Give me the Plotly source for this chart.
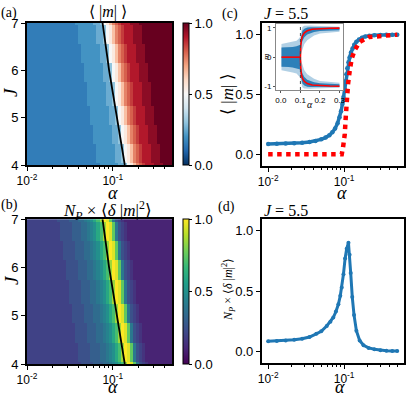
import numpy as np
import plotly.graph_objects as go

W, H = 407, 396
SERIF = "Liberation Serif, Times New Roman, serif"
SANS = "Liberation Sans, Arial, sans-serif"

# ---------------- (a) <|m|> and (b) N_P x <d|m|^2> maps ----------------
LOG_ALPHA_LO, LOG_ALPHA_HI = -2.0, -0.31      # alpha from 1e-2 to ~0.49
N_ALPHA = 48
J_VALUES = [4.0, 4.1, 4.2, 4.3, 4.4, 4.5, 4.6, 4.7, 4.8, 4.9, 5.0,
            5.1, 5.2, 5.3, 5.4, 5.5, 5.6, 5.7, 5.8, 5.9, 6.0,
            6.1, 6.2, 6.3, 6.4, 6.5, 6.6, 6.7, 6.8, 6.9, 7.0]

# one string per J row (J=4.0 first), one letter per alpha column:
# 'a'=0.00, 'b'=0.05, 'c'=0.10 ... 'u'=1.00
MAG_ROWS = [
    "dddddddddd" "dddddddddd" "dddd" "eeeeeeffgklnpqrsssttt" "uuu",
    "dddddddddd" "dddddddddd" "ddd" "eeeeeeffgklnpqrsssttt" "uuuu",
    "dddddddddd" "dddddddddd" "ddd" "eeeeeeffgklnpqrsssttt" "uuuu",
    "dddddddddd" "dddddddddd" "ddd" "eeeeeeffgklnpqrsssttt" "uuuu",
    "dddddddddd" "dddddddddd" "ddd" "eeeeeeffgklnpqrsssttt" "uuuu",
    "dddddddddd" "dddddddddd" "dd" "eeeeeeffgklnpqrsssttt" "uuuuu",
    "dddddddddd" "dddddddddd" "dd" "eeeeeeffgklnpqrsssttt" "uuuuu",
    "dddddddddd" "dddddddddd" "dd" "eeeeeeffgklnpqrsssttt" "uuuuu",
    "dddddddddd" "dddddddddd" "dd" "eeeeeeffgklnpqrsssttt" "uuuuu",
    "dddddddddd" "dddddddddd" "d" "eeeeeeffgklnpqrsssttt" "uuuuuu",
    "dddddddddd" "dddddddddd" "d" "eeeeeeffgklnpqrsssttt" "uuuuuu",
    "dddddddddd" "dddddddddd" "d" "eeeeeeffgklnpqrsssttt" "uuuuuu",
    "dddddddddd" "dddddddddd" "d" "eeeeeeffgklnpqrsssttt" "uuuuuu",
    "dddddddddd" "dddddddddd" "eeeeeeffgklnpqrsssttt" "uuuuuuu",
    "dddddddddd" "dddddddddd" "eeeeeeffgklnpqrsssttt" "uuuuuuu",
    "dddddddddd" "dddddddddd" "eeeeeeffgklnpqrsssttt" "uuuuuuu",
    "dddddddddd" "dddddddddd" "eeeeeeffgklnpqrsssttt" "uuuuuuu",
    "dddddddddd" "dddddddddd" "eeeeeeffgklnpqrsssttt" "uuuuuuu",
    "dddddddddd" "ddddddddd" "eeeeeeffgklnpqrsssttt" "uuuuuuuu",
    "dddddddddd" "ddddddddd" "eeeeeeffgklnpqrsssttt" "uuuuuuuu",
    "dddddddddd" "ddddddddd" "eeeeeeffgklnpqrsssttt" "uuuuuuuu",
    "dddddddddd" "ddddddddd" "eeeeeeffgklnpqrsssttt" "uuuuuuuu",
    "dddddddddd" "dddddddd" "eeeeeeffgklnpqrsssttt" "uuuuuuuuu",
    "dddddddddd" "dddddddd" "eeeeeeffgklnpqrsssttt" "uuuuuuuuu",
    "dddddddddd" "dddddddd" "eeeeeeffgklnpqrsssttt" "uuuuuuuuu",
    "dddddddddd" "dddddddd" "eeeeeeffgklnpqrsssttt" "uuuuuuuuu",
    "dddddddddd" "ddddddd" "eeeeeeffgklnpqrsssttt" "uuuuuuuuuu",
    "dddddddddd" "ddddddd" "eeeeeeffgklnpqrsssttt" "uuuuuuuuuu",
    "dddddddddd" "ddddddd" "eeeeeeffgklnpqrsssttt" "uuuuuuuuuu",
    "dddddddddd" "ddddddd" "eeeeeeffgklnpqrsssttt" "uuuuuuuuuu",
    "dddddddddd" "dddddd" "eeeeeeffgklnpqrsssttt" "uuuuuuuuuu" "u",
]

FLUCT_ROWS = [
    "eeeeeeeeee" "eeeeeeee" "ffffggghhijkmorutpifed" "cccccccc",
    "eeeeeeeeee" "eeeeeee" "ffffggghhijkmorutpifed" "ccccccccc",
    "eeeeeeeeee" "eeeeeee" "ffffggghhijkmorutpifed" "ccccccccc",
    "eeeeeeeeee" "eeeeeee" "ffffggghhijkmorutpifed" "ccccccccc",
    "eeeeeeeeee" "eeeeeee" "ffffggghhijkmorutpifed" "ccccccccc",
    "eeeeeeeeee" "eeeeee" "ffffggghhijkmorutpifed" "cccccccccc",
    "eeeeeeeeee" "eeeeee" "ffffggghhijkmorutpifed" "cccccccccc",
    "eeeeeeeeee" "eeeeee" "ffffggghhijkmorutpifed" "cccccccccc",
    "eeeeeeeeee" "eeeeee" "ffffggghhijkmorutpifed" "cccccccccc",
    "eeeeeeeeee" "eeeee" "ffffggghhijkmorutpifed" "cccccccccc" "c",
    "eeeeeeeeee" "eeeee" "ffffggghhijkmorutpifed" "cccccccccc" "c",
    "eeeeeeeeee" "eeeee" "ffffggghhijkmorutpifed" "cccccccccc" "c",
    "eeeeeeeeee" "eeeee" "ffffggghhijkmorutpifed" "cccccccccc" "c",
    "eeeeeeeeee" "eeee" "ffffggghhijkmorutpifed" "cccccccccc" "cc",
    "eeeeeeeeee" "eeee" "ffffggghhijkmorutpifed" "cccccccccc" "cc",
    "eeeeeeeeee" "eeee" "ffffggghhijkmorutpifed" "cccccccccc" "cc",
    "eeeeeeeeee" "eeee" "ffffggghhijkmorutpifed" "cccccccccc" "cc",
    "eeeeeeeeee" "eeee" "ffffggghhijkmorutpifed" "cccccccccc" "cc",
    "eeeeeeeeee" "eee" "ffffggghhijkmorutpifed" "cccccccccc" "ccc",
    "eeeeeeeeee" "eee" "ffffggghhijkmorutpifed" "cccccccccc" "ccc",
    "eeeeeeeeee" "eee" "ffffggghhijkmorutpifed" "cccccccccc" "ccc",
    "eeeeeeeeee" "eee" "ffffggghhijkmorutpifed" "cccccccccc" "ccc",
    "eeeeeeeeee" "ee" "ffffggghhijkmorutpifed" "cccccccccc" "cccc",
    "eeeeeeeeee" "ee" "ffffggghhijkmorutpifed" "cccccccccc" "cccc",
    "eeeeeeeeee" "ee" "ffffggghhijkmorutpifed" "cccccccccc" "cccc",
    "eeeeeeeeee" "ee" "ffffggghhijkmorutpifed" "cccccccccc" "cccc",
    "eeeeeeeeee" "e" "ffffggghhijkmorutpifed" "cccccccccc" "ccccc",
    "eeeeeeeeee" "e" "ffffggghhijkmorutpifed" "cccccccccc" "ccccc",
    "eeeeeeeeee" "e" "ffffggghhijkmorutpifed" "cccccccccc" "ccccc",
    "eeeeeeeeee" "e" "ffffggghhijkmorutpifed" "cccccccccc" "ccccc",
    "eeeeeeeeee" "ffffggghhijkmorutpifed" "cccccccccc" "cccccc",
]

# phase boundary drawn on both maps
BOUND_J = [4.0, 4.5, 5.0, 5.5, 6.0, 6.5, 7.0]
BOUND_ALPHA = [0.138, 0.124, 0.112, 0.1005, 0.0906, 0.083, 0.076]

# ---------------- (c) J = 5.5 cut of <|m|> ----------------
C_ALPHA = [0.01, 0.013, 0.017, 0.022, 0.028, 0.035, 0.042, 0.05, 0.057, 0.064,
           0.07, 0.076, 0.082, 0.087, 0.091, 0.095, 0.098, 0.101, 0.104, 0.107,
           0.11, 0.114, 0.118, 0.123, 0.129, 0.136, 0.145, 0.157, 0.172, 0.19,
           0.215, 0.25, 0.3, 0.36, 0.43, 0.5]
C_M = [0.086, 0.088, 0.09, 0.093, 0.097, 0.103, 0.112, 0.125, 0.14, 0.16,
       0.185, 0.215, 0.26, 0.31, 0.36, 0.42, 0.48, 0.55, 0.61, 0.67,
       0.72, 0.77, 0.81, 0.85, 0.885, 0.915, 0.94, 0.96, 0.975, 0.985,
       0.992, 0.996, 0.998, 0.999, 1.0, 1.0]
MF_ALPHA = [0.01, 0.03, 0.06, 0.086, 0.093, 0.097, 0.102, 0.105, 0.108, 0.1127,
            0.1186, 0.1259, 0.1378, 0.16, 0.212, 0.35, 0.5]
MF_M = [0.0, 0.0, 0.0, 0.0, 0.0, 0.064, 0.17, 0.31, 0.45, 0.59,
        0.70, 0.80, 0.87, 0.94, 0.98, 0.997, 1.0]

# inset: m samples vs alpha (shown as point-cloud envelopes) + mean field
INSET_ALPHA_C = 0.1
PRE_A = [0.003, 0.02, 0.04, 0.06, 0.08, 0.09, 0.1]
PRE_CORE = [0.33, 0.33, 0.34, 0.35, 0.37, 0.40, 0.42]
PRE_OUTER = [0.45, 0.47, 0.50, 0.52, 0.56, 0.62, 0.70]
POST_A = [0.1, 0.105, 0.11, 0.12, 0.135, 0.15, 0.17, 0.2, 0.25, 0.3]
POST_CORE_LO = [0.25, 0.42, 0.55, 0.68, 0.77, 0.82, 0.86, 0.89, 0.91, 0.92]
POST_CORE_HI = [0.55, 0.80, 0.90, 0.97, 1.01, 1.02, 1.02, 1.02, 1.01, 1.01]
POST_OUTER_LO = [0.05, 0.15, 0.28, 0.45, 0.58, 0.66, 0.74, 0.81, 0.85, 0.87]
POST_OUTER_HI = [0.75, 0.95, 1.03, 1.07, 1.08, 1.08, 1.07, 1.06, 1.05, 1.04]
RED_FLAT_A = [0.003, 0.1]
RED_A = [0.1, 0.1005, 0.102, 0.105, 0.11, 0.12, 0.135, 0.16, 0.2, 0.25, 0.3]
RED_M = [0.0, 0.25, 0.42, 0.58, 0.72, 0.83, 0.90, 0.95, 0.975, 0.985, 0.99]

# ---------------- (d) J = 5.5 cut of N_P x <d|m|^2> ----------------
D_ALPHA = [0.01, 0.013, 0.017, 0.022, 0.028, 0.035, 0.043, 0.05, 0.059, 0.066,
           0.072, 0.078, 0.084, 0.089, 0.093, 0.098, 0.103, 0.108, 0.114, 0.118,
           0.122, 0.128, 0.135, 0.145, 0.16, 0.18, 0.21, 0.25, 0.3, 0.36, 0.43, 0.5]
D_VAL = [0.083, 0.086, 0.09, 0.096, 0.104, 0.118, 0.145, 0.165, 0.21, 0.245,
         0.28, 0.33, 0.39, 0.46, 0.53, 0.64, 0.77, 0.85, 0.90, 0.80,
         0.65, 0.45, 0.30, 0.17, 0.09, 0.05, 0.028, 0.016, 0.009, 0.005, 0.003, 0.002]

BLUE = "#1f77b4"
RDBU_R = ["#053061", "#2166ac", "#4393c3", "#92c5de", "#d1e5f0", "#f7f7f7",
          "#fddbc7", "#f4a582", "#d6604d", "#b2182b", "#67001f"]


def decode(rows):
    for r in rows:
        assert len(r) == N_ALPHA, (len(r), r)
    return [[(ord(ch) - ord("a")) * 0.05 for ch in r] for r in rows]


def dom_x(x0, x1):
    return [x0 / W, x1 / W]


def dom_y(y0, y1):
    return [1 - y1 / H, 1 - y0 / H]


def colorbar(y0, y1):
    return dict(x=183 / W, xanchor="left", y=1 - (y0 + y1) / 2 / H, yanchor="middle",
                len=(y1 - y0) / H, thickness=6, xpad=0, ypad=0,
                outlinecolor="black", outlinewidth=1,
                tickvals=[0, 0.5, 1], ticktext=["0.0", "0.5", "1.0"],
                ticks="outside", ticklen=3, tickcolor="black",
                tickfont=dict(family=SANS, size=13, color="black"))


alpha_edges = np.linspace(LOG_ALPHA_LO, LOG_ALPHA_HI, N_ALPHA + 1)
fig = go.Figure()

fig.add_trace(go.Heatmap(x=alpha_edges, y=J_VALUES, z=decode(MAG_ROWS), zmin=0, zmax=1,
                         colorscale=[[i / 10, c] for i, c in enumerate(RDBU_R)],
                         colorbar=colorbar(23, 165), xaxis="x", yaxis="y"))
fig.add_trace(go.Heatmap(x=alpha_edges, y=J_VALUES, z=decode(FLUCT_ROWS), zmin=0, zmax=1,
                         colorscale="Viridis", colorbar=colorbar(219.3, 364),
                         xaxis="x2", yaxis="y2"))
for xa, ya in (("x", "y"), ("x2", "y2")):
    fig.add_trace(go.Scatter(x=np.log10(BOUND_ALPHA), y=BOUND_J, mode="lines",
                             line=dict(color="black", width=1.8), xaxis=xa, yaxis=ya))

# (c)
fig.add_trace(go.Scatter(x=C_ALPHA, y=C_M, mode="lines+markers",
                         line=dict(color=BLUE, width=3.5), marker=dict(color=BLUE, size=4.5),
                         xaxis="x3", yaxis="y3"))
fig.add_trace(go.Scatter(x=MF_ALPHA, y=MF_M, mode="lines",
                         line=dict(color="red", width=4.5, dash="4.5px,4.5px"),
                         xaxis="x3", yaxis="y3"))

# inset clouds
pre_x = PRE_A + PRE_A[::-1]
post_x = POST_A + POST_A[::-1]
for outer, alpha_fill in ((True, 0.35), (False, 0.9)):
    half = PRE_OUTER if outer else PRE_CORE
    lo = POST_OUTER_LO if outer else POST_CORE_LO
    hi = POST_OUTER_HI if outer else POST_CORE_HI
    col = f"rgba(31,119,180,{alpha_fill})"
    shapes = [
        (pre_x, half + [-v for v in half[::-1]]),
        (post_x, hi + lo[::-1]),
        (post_x, [-v for v in hi] + [-v for v in lo[::-1]]),
    ]
    for sx, sy in shapes:
        fig.add_trace(go.Scatter(x=sx, y=sy, mode="lines", fill="toself", fillcolor=col,
                                 line=dict(width=0), xaxis="x5", yaxis="y5"))
fig.add_trace(go.Scatter(x=RED_FLAT_A, y=[0, 0], mode="lines",
                         line=dict(color="red", width=1.6), xaxis="x5", yaxis="y5"))
for sign in (1, -1):
    fig.add_trace(go.Scatter(x=RED_A, y=[sign * v for v in RED_M], mode="lines",
                             line=dict(color="red", width=1.6), xaxis="x5", yaxis="y5"))
fig.add_shape(type="line", xref="x5", yref="y5 domain", x0=INSET_ALPHA_C, x1=INSET_ALPHA_C,
              y0=0, y1=1, line=dict(color="#444", width=1, dash="dot"))

# (d)
fig.add_trace(go.Scatter(x=D_ALPHA, y=D_VAL, mode="lines+markers",
                         line=dict(color=BLUE, width=3), marker=dict(color=BLUE, size=4),
                         xaxis="x4", yaxis="y4"))

AX = dict(showline=True, linecolor="black", linewidth=1.6, mirror=True,
          ticks="outside", ticklen=4, tickwidth=1.2, tickcolor="black",
          showgrid=False, zeroline=False, automargin=False,
          tickfont=dict(family=SANS, size=13, color="black"))
MINOR = [0.02, 0.03, 0.04, 0.05, 0.06, 0.07, 0.08, 0.09, 0.2, 0.3, 0.4, 0.5]
DEC_TEXT = ["10<sup>-2</sup>", "10<sup>-1</sup>"]
XTICK_FONT = dict(family=SANS, size=12, color="black")

heat_x = dict(AX, range=[LOG_ALPHA_LO, LOG_ALPHA_HI], tickvals=[-2, -1], ticktext=DEC_TEXT,
              tickfont=XTICK_FONT,
              minor=dict(tickvals=list(np.log10(MINOR[:-1])), ticks="outside", ticklen=2.5,
                         tickcolor="black", tickwidth=1))
heat_y = dict(AX, range=[4, 7], tickvals=[4, 5, 6, 7])
cut_x = dict(AX, type="log", range=[-2.085, -0.216], tickvals=[0.01, 0.1], ticktext=DEC_TEXT,
             tickfont=XTICK_FONT,
             minor=dict(tickvals=MINOR, ticks="outside", ticklen=2.5, tickcolor="black", tickwidth=1))
cut_y = dict(AX, range=[-0.095, 1.095], tickvals=[0, 0.5, 1], ticktext=["0.0", "0.5", "1.0"])
small = dict(family=SANS, size=8, color="black")

fig.update_layout(
    width=W, height=H, margin=dict(l=0, r=0, t=0, b=0),
    paper_bgcolor="white", plot_bgcolor="white", showlegend=False,
    font=dict(family=SANS, size=13, color="black"),
    xaxis=dict(heat_x, domain=dom_x(27, 172), anchor="y"),
    yaxis=dict(heat_y, domain=dom_y(23, 165), anchor="x"),
    xaxis2=dict(heat_x, domain=dom_x(27, 172), anchor="y2"),
    yaxis2=dict(heat_y, domain=dom_y(219.3, 364), anchor="x2"),
    xaxis3=dict(cut_x, domain=dom_x(261.7, 403.7), anchor="y3"),
    yaxis3=dict(cut_y, domain=dom_y(23.3, 165.7), anchor="x3"),
    xaxis4=dict(cut_x, domain=dom_x(261.7, 403.7), anchor="y4"),
    yaxis4=dict(cut_y, domain=dom_y(219.3, 362.7), anchor="x4"),
    xaxis5=dict(showline=True, linecolor="#888", linewidth=1, mirror=True, ticks="outside",
                ticklen=2, tickcolor="#555", showgrid=False, zeroline=False, automargin=False,
                range=[-0.025, 0.318], tickvals=[0, 0.1, 0.2, 0.3],
                ticktext=["0.0", "0.1", "0.2", "0.3"], tickfont=small,
                domain=dom_x(276, 343), anchor="y5"),
    yaxis5=dict(showline=True, linecolor="#888", linewidth=1, mirror=True, ticks="outside",
                ticklen=2, tickcolor="#555", showgrid=False, zeroline=False, automargin=False,
                range=[-1.12, 1.13], tickvals=[-1, 0, 1], ticktext=["-1", "0", "1"],
                tickfont=small, domain=dom_y(24, 90), anchor="x5"),
)


def note(text, x, y, size, angle=0, family=SERIF):
    fig.add_annotation(text=text, x=x / W, y=1 - y / H, xref="paper", yref="paper",
                       showarrow=False, textangle=angle, xanchor="center", yanchor="middle",
                       font=dict(family=family, size=size, color="black"))


M_ABS = "⟨ |<i>m</i>| ⟩"
FLUCT = "<i>N</i><sub><i>P</i></sub> × ⟨<i>δ</i> |<i>m</i>|<sup>2</sup>⟩"
note("(a)", 9, 13, 14)
note("(b)", 9, 205, 14)
note("(c)", 230, 14, 14)
note("(d)", 226, 207, 14)
note(M_ABS, 108, 12, 16)
note(FLUCT, 107, 210, 17)
note("<i>J</i> = 5.5", 286, 13, 16)
note("<i>J</i> = 5.5", 286, 210, 16)
note("<i>α</i>", 113, 193, 18)
note("<i>α</i>", 113, 387, 18)
note("<i>α</i>", 342, 193, 18)
note("<i>α</i>", 340, 387, 18)
note("<i>J</i>", 11, 92, 19, angle=-90)
note("<i>J</i>", 11, 280, 19, angle=-90)
note(M_ABS, 228, 94, 17, angle=-90)
note(FLUCT, 228, 290, 12, angle=-90)
note("<i>α</i>", 310, 104, 10)
note("<i>m</i>", 266, 57, 9, angle=-90)

fig.write_html(
    "out.html",
    config={"displayModeBar": False},
    post_script="document.body.style.margin='0';document.body.style.padding='0';"
                "document.documentElement.style.overflow='hidden';",
)
